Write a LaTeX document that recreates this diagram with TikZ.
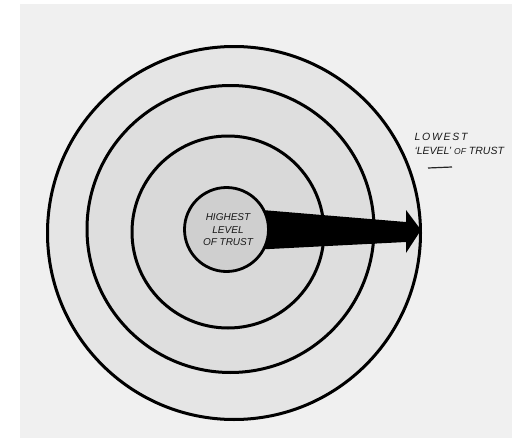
\documentclass[tikz,border=0pt]{standalone}
\usepackage{fontspec}
\setmainfont{Liberation Sans}
\begin{document}
\begin{tikzpicture}[x=1pt,y=-1pt,
  ring/.style={circle,draw=black,line width=3pt,inner sep=0pt},
  hand/.style={font=\itshape\fontsize{10}{12.5}\selectfont,align=center,text=black!90},
  note/.style={font=\itshape\fontsize{10.5}{13.5}\selectfont,align=left,text=black!90,anchor=north west}]
\useasboundingbox (0,0) rectangle (512,439);
\fill[white] (0,0) rectangle (512,439);
\fill[black!6] (20,4) rectangle (512,438);
\node[ring,fill=black!10,minimum size=373pt] (c3) at (234,233) {};
\node[ring,fill=black!13,minimum size=287pt] (c2) at (230.5,229) {};
\node[ring,fill=black!15,minimum size=192pt] (c1) at (228,232) {};
\coordinate (tip) at (421,230);
\fill[black] (250,209) -- (406,222) -- (406,210) -- (tip) -- (406,253) -- (406,242) -- (250,250) -- cycle;
\node[ring,fill=black!19,minimum size=84pt,line width=2.8pt] (c0) at (226.5,229.5) {};
\node[hand] (t0) at (228,230) {HIGHEST\\LEVEL\\OF TRUST};
\node[note] (t1) at (411,130) {L\,O\,W\,E\,S\,T\\`LEVEL' {\fontsize{8.5}{10}\selectfont OF} TRUST};
\draw[line width=1.2pt,black!85] (428,168) -- (452,167);
\end{tikzpicture}
\end{document}
